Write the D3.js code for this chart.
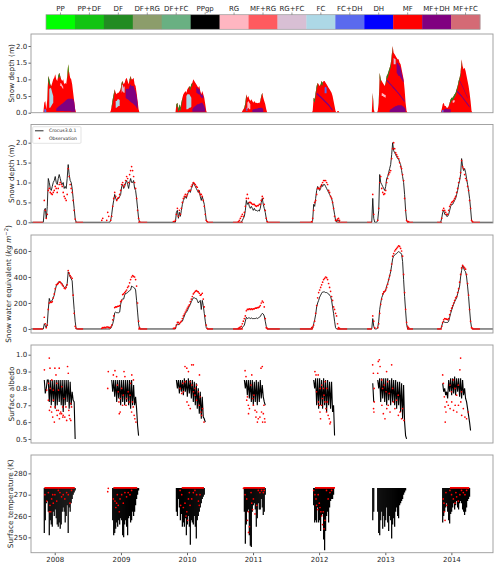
<!DOCTYPE html>
<html>
<head>
<meta charset="utf-8">
<script src="https://cdn.jsdelivr.net/npm/d3@7"></script>
<style>
  body { margin: 0; background: #fff; }
  svg text { font-family: "DejaVu Sans", sans-serif; fill: #262626; }
</style>
</head>
<body>
<div id="chart"></div>
<script>
"use strict";

// grain type classes of the colour bar
const grainTypes = ["PP", "PP+DF", "DF", "DF+RG", "DF+FC", "PPgp", "RG", "MF+RG",
    "RG+FC", "FC", "FC+DH", "DH", "MF", "MF+DH", "MF+FC"];
const grainColors = ["#00ff00", "#12c412", "#228b22", "#8c9d6b", "#69b082", "#000000",
    "#ffb6c1", "#ff5a5f", "#d8bfd4", "#add8e6", "#5a6aee", "#0000ff", "#ff0000", "#800080", "#d46a75"];

// tick labels
const depthTicks = [0, 0.5, 1, 1.5, 2];
const sweTicks = [0, 200, 400, 600];
const albedoTicks = [0.5, 0.6, 0.7, 0.8, 0.9, 1.0];
const tempTicks = [250, 260, 270, 280];
const yearTicks = [2008, 2009, 2010, 2011, 2012, 2013, 2014];

// time span of the record
const recordStart = "2007-08-23", recordEnd = "2014-08-19";

// one row per winter, values every STEP_DAYS days from seasonStart
const seasonStart = ["2007-10-30", "2008-09-17", "2009-10-18", "2010-10-12",
    "2011-11-21", "2012-10-18", "2013-11-03"];
const STEP_DAYS = 5.5;

// snow depth (m)
const depthModel = [
    [0, 0.3, 0.35, 0.1, 0.4, 1.1, 1.0, 0.85, 0.8, 0.9, 1.0, 1.05, 1.15, 1.0, 0.95, 1.1, 1.2, 1.1, 1.0, 0.95, 1.0, 0.85, 0.9, 0.85, 1.1, 1.45, 1.2, 1.05, 1.0, 0.85, 0.6, 0.35, 0.1, 0],
    [0, 0, 0, 0, 0, 0, 0, 0, 0, 0.05, 0.2, 0.4, 0.55, 0.7, 0.6, 0.55, 0.6, 0.6, 0.65, 0.7, 0.9, 0.95, 0.85, 0.9, 1.0, 1.05, 0.95, 0.85, 1.0, 1.1, 1.0, 1.0, 1.05, 0.85, 0.8, 0.6, 0.35, 0.1, 0],
    [0, 0, 0, 0.25, 0.3, 0.1, 0.25, 0.15, 0.3, 0.45, 0.55, 0.6, 0.65, 0.6, 0.7, 0.75, 0.8, 0.75, 0.85, 0.9, 1.0, 0.95, 0.9, 0.85, 0.8, 0.75, 0.8, 0.65, 0.55, 0.65, 0.55, 0.45, 0.25, 0.05, 0],
    [0, 0, 0, 0, 0.05, 0.1, 0.15, 0.3, 0.55, 0.45, 0.5, 0.4, 0.35, 0.4, 0.35, 0.3, 0.35, 0.3, 0.3, 0.28, 0.3, 0.28, 0.35, 0.5, 0.6, 0.45, 0.35, 0.25, 0.1, 0],
    [0, 0.05, 0.45, 0.4, 0.6, 0.8, 0.9, 0.85, 0.8, 0.85, 0.95, 0.9, 0.95, 0.95, 0.9, 0.85, 0.8, 0.75, 0.7, 0.65, 0.6, 0.5, 0.35, 0.2, 0.05, 0, 0.05, 0.05, 0],
    [0, 0.6, 0.1, 0, 0, 0, 0.05, 0.3, 1.2, 1.0, 0.95, 0.9, 0.85, 0.8, 0.9, 1.1, 1.15, 1.25, 1.35, 1.45, 1.7, 2.0, 1.8, 1.75, 1.7, 1.65, 1.6, 1.6, 1.5, 1.45, 1.3, 1.15, 1.0, 0.7, 0.3, 0.05, 0, 0],
    [0, 0.1, 0.25, 0.3, 0.2, 0.2, 0.15, 0.15, 0.2, 0.3, 0.4, 0.45, 0.45, 0.5, 0.55, 0.6, 0.7, 0.8, 0.95, 1.05, 1.2, 1.6, 1.4, 1.3, 1.35, 1.25, 1.1, 0.95, 0.8, 0.6, 0.35, 0.05, 0]
];
const depthObs = [
    [null, 0.55, 0.3, 0.1, 0.2, 0.8, 0.85, 0.75, 0.72, 0.7, 0.75, 0.8, 0.9, 0.85, 0.75, 0.85, 0.95, 1.0, 0.95, 0.9, 0.75, 0.65, 0.6, 0.55, 0.7, 1.35, 1.15, 0.95, 0.85, 0.75, 0.55, 0.3, 0.08, 0],
    [0.05, 0.1, null, null, null, 0.05, 0.25, 0.15, null, 0.05, 0.15, 0.4, 0.6, 0.75, 0.65, 0.55, 0.6, 0.62, 0.7, 0.8, 0.95, 1.0, 0.9, 0.95, 1.05, 1.15, 1.1, 1.0, 1.2, 1.3, 1.4, 1.3, 1.15, 1.0, 0.85, 0.6, 0.3, 0.1, 0.02],
    [0.02, 0.02, 0.05, 0.2, 0.35, 0.15, 0.3, 0.2, 0.35, 0.5, 0.6, 0.65, 0.7, 0.65, 0.7, 0.78, 0.8, 0.8, 0.9, 0.95, 1.0, 0.98, 0.95, 0.9, 0.88, 0.8, 0.75, 0.7, 0.7, 0.65, 0.55, 0.4, 0.2, 0.05, 0.02],
    [0.02, 0.05, 0.1, 0.15, 0.2, 0.15, 0.25, 0.4, 0.6, 0.7, 0.6, 0.5, 0.5, 0.48, 0.45, 0.45, 0.45, 0.42, 0.4, 0.42, 0.42, 0.45, 0.45, 0.55, 0.65, 0.6, 0.45, 0.3, 0.1, 0.02],
    [0.02, 0.1, 0.3, 0.5, 0.55, 0.7, 0.85, 0.85, 0.85, 0.9, 0.95, 1.0, 1.05, 1.05, 1.05, 1.0, 0.95, 0.8, 0.75, 0.65, 0.6, 0.5, 0.35, 0.15, 0.05, 0.05, 0.08, 0.1, 0.05],
    [null, 0.7, 0.2, null, null, null, 0.05, 0.35, 1.0, 1.15, 0.85, 0.75, 0.7, 0.72, 0.8, 1.0, 1.1, 1.2, 1.25, 1.3, 1.6, 1.85, 2.0, 1.85, 1.75, 1.7, 1.65, 1.6, 1.5, 1.4, 1.35, 1.2, 1.05, 0.6, 0.3, 0.05, 0.02, 0.02],
    [null, 0.1, 0.3, 0.35, 0.3, 0.25, 0.2, 0.2, 0.3, 0.4, 0.45, 0.5, 0.52, 0.55, 0.6, 0.65, 0.75, 0.85, 1.0, 1.1, 1.25, 1.55, 1.4, 1.35, 1.2, 1.1, 1.05, 0.9, 0.8, 0.55, 0.35, 0.05, 0.02]
];

// snow water equivalent (kg m-2)
const sweModel = [
    [0, 40, 25, 10, 40, 150, 235, 210, 215, 220, 240, 260, 300, 330, 340, 360, 365, 360, 355, 350, 330, 320, 320, 330, 350, 440, 420, 400, 385, 370, 250, 150, 60, 0],
    [0, 0, 0, 0, 0, 0, 0, 0, 0, 5, 20, 40, 70, 125, 130, 125, 125, 125, 130, 190, 225, 230, 230, 260, 275, 275, 280, 290, 295, 300, 330, 325, 320, 315, 300, 220, 130, 40, 0],
    [0, 0, 0, 30, 40, 30, 40, 50, 55, 60, 80, 100, 120, 130, 140, 160, 175, 190, 210, 225, 240, 240, 235, 235, 220, 200, 210, 220, 150, 220, 180, 120, 60, 10, 0],
    [0, 0, 0, 0, 10, 20, 30, 60, 90, 80, 85, 85, 80, 85, 80, 80, 80, 80, 85, 80, 85, 90, 95, 110, 120, 115, 100, 60, 20, 0],
    [0, 5, 40, 70, 110, 170, 200, 220, 245, 260, 275, 285, 285, 285, 280, 280, 275, 270, 260, 250, 220, 170, 120, 60, 10, 0, 0, 0, 0],
    [0, 80, 20, 0, 0, 0, 10, 60, 150, 200, 240, 260, 280, 285, 300, 330, 350, 380, 410, 440, 490, 540, 560, 570, 575, 580, 590, 595, 590, 585, 575, 520, 380, 250, 140, 40, 0, 0],
    [0, 20, 50, 60, 50, 50, 50, 50, 60, 90, 120, 145, 170, 190, 210, 225, 240, 270, 300, 330, 400, 450, 490, 470, 450, 440, 400, 330, 250, 150, 60, 10, 0]
];
const sweObs = [
    [null, 90, 40, 10, 30, 150, 200, 205, 205, 210, 240, 270, 310, 340, 345, 350, 360, 360, 350, 340, 330, 315, 310, 320, 340, 450, 430, 410, 400, 390, 260, 120, 20, 5],
    [5, 10, 10, 12, 10, 15, 15, 12, 10, 15, 30, 70, 100, 165, 170, 170, 175, 175, 180, 210, 220, 265, 270, 280, 290, 300, 320, 330, 355, 380, 400, 410, 405, 400, 380, 330, 200, 60, 10],
    [5, 5, 10, 30, 50, 50, 40, 50, 60, 80, 100, 115, 130, 145, 160, 175, 185, 210, 230, 250, 270, 280, 290, 295, 290, 285, 275, 260, 265, 275, 230, 170, 100, 30, 5],
    [5, 10, 15, 20, 40, 60, 80, 100, 140, 150, 150, 155, 150, 155, 150, 155, 155, 160, 160, 165, 165, 170, 180, 200, 215, 205, 170, 80, 10, 5],
    [10, 15, 30, 60, 120, 180, 240, 280, 300, 320, 340, 360, 380, 390, 400, 395, 380, 350, 320, 290, 250, 220, 170, 150, 120, 100, 40, 10, 5],
    [null, 100, 60, 10, null, null, 10, 40, 120, 190, 230, 270, 285, 290, 300, 320, 345, 380, 410, 450, 500, 560, 580, 600, 610, 620, 630, 640, 635, 620, 600, 560, 420, 280, 150, 50, 20, 10],
    [null, 20, 50, 70, 80, 78, 75, 72, 80, 110, 140, 160, 180, 200, 220, 240, 250, 280, 310, 360, 420, 470, 490, 480, 470, 460, 420, 350, 260, 150, 60, 10, 5]
];

// observed snow-free periods (depth and SWE at zero)
const obsZeroPeriods = [
    ["2007-09-03", "2007-10-28"], ["2008-05-04", "2008-06-06"], ["2009-04-06", "2009-05-26"],
    ["2010-04-21", "2010-05-25"], ["2010-09-12", "2010-11-06"], ["2011-03-18", "2011-05-29"],
    ["2011-09-17", "2011-11-28"], ["2012-04-10", "2012-06-04"], ["2012-09-22", "2012-10-19"],
    ["2013-05-01", "2013-06-03"], ["2013-10-14", "2013-11-10"], ["2014-04-24", "2014-06-08"]
];

// simulated surface albedo, first grid index of each winter
const albedoStart = [1, 10, 3, 6, 2, 1, 2];
const albedoModel = [
    [0.85, 0.77, 0.8, 0.85, 0.85, 0.72, 0.85, 0.7, 0.85, 0.72, 0.85, 0.68, 0.85, 0.7, 0.85, 0.72, 0.85, 0.7, 0.85, 0.66, 0.85, 0.7, 0.85, 0.72, 0.85, 0.68, 0.84, 0.7, 0.78, 0.73, 0.72, 0.5],
    [0.85, 0.78, 0.85, 0.75, 0.85, 0.72, 0.85, 0.74, 0.85, 0.7, 0.85, 0.72, 0.85, 0.7, 0.85, 0.72, 0.85, 0.7, 0.85, 0.68, 0.85, 0.7, 0.82, 0.7, 0.75, 0.68, 0.58, 0.52],
    [0.85, 0.8, 0.85, 0.77, 0.85, 0.78, 0.85, 0.76, 0.86, 0.78, 0.85, 0.75, 0.86, 0.77, 0.85, 0.74, 0.85, 0.72, 0.84, 0.7, 0.83, 0.68, 0.8, 0.65, 0.78, 0.62, 0.75, 0.63, 0.62, 0.6],
    [0.85, 0.8, 0.85, 0.76, 0.85, 0.74, 0.85, 0.72, 0.85, 0.7, 0.84, 0.72, 0.85, 0.7, 0.84, 0.72, 0.85, 0.74, 0.82, 0.75, 0.72, 0.7],
    [0.85, 0.8, 0.86, 0.7, 0.86, 0.68, 0.86, 0.7, 0.85, 0.68, 0.86, 0.7, 0.85, 0.66, 0.85, 0.7, 0.84, 0.68, 0.84, 0.66, 0.7, 0.52],
    [0.83, 0.72, null, null, null, 0.85, 0.8, 0.86, 0.72, 0.86, 0.74, 0.86, 0.72, 0.86, 0.7, 0.86, 0.73, 0.85, 0.7, 0.86, 0.72, 0.85, 0.7, 0.85, 0.68, 0.84, 0.7, 0.84, 0.66, 0.83, 0.62, 0.82, 0.6, 0.52, 0.5],
    [0.83, 0.78, 0.8, 0.76, 0.78, 0.74, 0.85, 0.78, 0.86, 0.76, 0.86, 0.77, 0.87, 0.76, 0.86, 0.78, 0.86, 0.75, 0.86, 0.74, 0.85, 0.76, 0.8, 0.74, 0.72, 0.68, 0.64, 0.6, 0.55]
];
// observed albedo: [day of winter, value]
const albedoObs = [
    [[6, 0.91], [19, 0.79], [28, 0.73], [29, 0.83], [33, 0.98], [34, 0.67], [37, 0.92], [38, 0.8], [41, 0.69], [46, 0.66], [47, 0.85], [52, 0.63], [55, 0.79], [56, 0.73], [61, 0.6], [64, 0.92], [65, 0.69], [70, 0.88], [74, 0.67], [75, 0.83], [77, 0.64], [83, 0.67], [84, 0.79], [88, 0.92], [89, 0.62], [92, 0.65], [96, 0.66], [101, 0.65], [102, 0.81], [107, 0.69], [108, 0.63], [110, 0.64], [116, 0.74], [119, 0.63], [125, 0.69], [129, 0.61], [134, 0.93], [138, 0.89], [141, 0.67], [143, 0.64], [147, 0.62], [151, 0.71], [152, 0.61], [156, 0.69]],
    [[33, 0.8], [36, 0.9], [64, 0.88], [73, 0.905], [82, 0.87], [86, 0.82], [91, 0.78], [95, 0.72], [97, 0.65], [101, 0.74], [102, 0.66], [110, 0.8], [115, 0.7], [119, 0.76], [123, 0.9], [128, 0.87], [134, 0.7], [137, 0.74], [146, 0.78], [152, 0.72], [156, 0.76], [159, 0.83], [165, 0.66], [166, 0.88], [170, 0.72], [174, 0.69], [175, 0.85], [179, 0.64], [183, 0.62], [189, 0.6]],
    [[37, 0.8], [46, 0.77], [52, 0.83], [55, 0.78], [64, 0.93], [65, 0.84], [74, 0.92], [75, 0.72], [83, 0.9], [84, 0.7], [92, 0.84], [93, 0.68], [101, 0.94], [102, 0.82], [110, 0.94], [111, 0.78], [119, 0.76], [120, 0.8], [128, 0.73], [129, 0.82], [138, 0.78], [143, 0.7], [144, 0.88], [147, 0.75], [152, 0.66], [156, 0.64], [161, 0.68], [169, 0.6]],
    [[37, 0.905], [42, 0.87], [46, 0.73], [50, 0.75], [55, 0.7], [56, 0.65], [61, 0.68], [70, 0.82], [74, 0.88], [79, 0.74], [83, 0.7], [86, 0.76], [92, 0.67], [97, 0.63], [101, 0.66], [105, 0.6], [110, 0.62], [119, 0.63], [125, 0.92], [128, 0.66], [132, 0.93], [134, 0.6], [138, 0.65], [141, 0.7], [145, 0.62], [147, 0.6]],
    [[18, 0.9], [24, 0.88], [27, 0.78], [36, 0.88], [37, 0.72], [42, 0.7], [46, 0.66], [47, 0.8], [49, 0.62], [55, 0.7], [56, 0.82], [60, 0.74], [64, 0.8], [68, 0.76], [73, 0.72], [74, 0.84], [79, 0.68], [82, 0.66], [83, 0.8], [86, 0.72], [91, 0.64], [97, 0.62], [101, 0.59], [104, 0.6]],
    [[5, 0.94], [9, 0.89], [10, 0.68], [12, 0.66], [13, 0.8], [14, 0.72], [33, 0.89], [36, 0.96], [42, 0.97], [46, 0.93], [55, 0.85], [56, 0.7], [60, 0.8], [64, 0.65], [69, 0.82], [73, 0.62], [79, 0.78], [82, 0.9], [83, 0.68], [88, 0.84], [91, 0.7], [97, 0.77], [101, 0.66], [110, 0.94], [115, 0.8], [119, 0.72], [128, 0.68], [137, 0.73], [146, 0.76], [147, 0.64], [156, 0.66], [165, 0.62], [170, 0.68], [178, 0.61]],
    [[11, 0.88], [15, 0.83], [20, 0.75], [24, 0.69], [25, 0.6], [29, 0.66], [33, 0.72], [42, 0.7], [51, 0.82], [52, 0.68], [60, 0.78], [61, 0.72], [70, 0.85], [71, 0.67], [79, 0.8], [80, 0.7], [88, 0.76], [89, 0.66], [97, 0.82], [98, 0.7], [106, 0.91], [110, 0.98], [111, 0.72], [115, 0.78], [116, 0.64], [125, 0.68], [134, 0.63], [143, 0.62], [152, 0.66]]
];

// simulated surface temperature: lowest value in each step (K), top is melting point
const T_MELT = 273.15;
const tempStart = [1, 11, 3, 6, 2, 1, 2];
const tempMin = [
    [252, 258, 266, 267, 262, 251, 258, 256, 255, 262, 260, 263, 259, 256, 255, 257, 254, 256, 262, 264, 262, 257, 260, 265, 252, 264, 262, 266, 268, 270, 271, 272],
    [258, 251, 252, 254, 257, 255, 258, 256, 259, 258, 251, 250, 256, 258, 255, 251, 259, 260, 257, 258, 262, 260, 262, 265, 268, 270, 272],
    [262, 260, 268, 264, 258, 261, 255, 257, 255, 259, 251, 256, 260, 255, 246.5, 258, 257, 256, 260, 255, 249.5, 258, 260, 262, 264, 266, 268, 269, 270],
    [262, 247, 256, 262, 263, 251, 246, 245.5, 262, 265, 266, 263, 255, 259, 266, 263, 263, 268, 264, 260.5, 262, 270],
    [265, 257, 258, 257, 264, 257, 258, 253, 260, 261, 249, 244, 253, 260, 262, 257, 264, 267, 268, 268, 270],
    [258, 262, null, null, null, 262, 252, 251, 258, 262, 254, 260, 255, 258, 264, 257, 253, 260, 258, 249.5, 256, 259, 255, 262, 264, 260, 259, 265, 266, 267, 268, 270, 271, 272],
    [257, 260, 262, 264, 266, 262, 258, 256.5, 261, 262, 264, 266, 263, 265, 267, 264, 263, 266, 267, 266, 263, 262, 260.5, 262, 264, 267, 268, 269]
];
// observed surface temperature: days at melting point, and [day, value] below it
const tempObsMelt = [[6, 174], [64, 196], [46, 169], [28, 147], [18, 129], null, [51, 158]];
const tempObs = [
    [[9, 270], [19, 267], [28, 271], [33, 262], [37, 265], [41, 262], [46, 268], [52, 270], [55, 266], [64, 270], [74, 267], [83, 272], [92, 271], [101, 269], [110, 270], [119, 268], [129, 271], [138, 270], [147, 266], [156, 272]],
    [[33, 271.4], [36, 273], [64, 268], [73, 267], [78, 264], [82, 266], [86, 270], [91, 265], [97, 262], [101, 268], [110, 270], [119, 266], [128, 271], [137, 269], [146, 271], [156, 270], [165, 272]],
    [[37, 272], [40, 265], [46, 270], [55, 264], [64, 266], [70, 260], [74, 262], [79, 258], [83, 268], [88, 271], [92, 265], [101, 268], [110, 271], [119, 272], [128, 270], [138, 267], [143, 265], [147, 270]],
    [[28, 273], [37, 270], [46, 268], [50, 258], [55, 262], [56, 252.3], [61, 255], [70, 271], [74, 266], [79, 263], [83, 268], [92, 261], [101, 265], [110, 272], [119, 271], [128, 272], [138, 271], [143, 272]],
    [[11, 272], [18, 270], [24, 268], [27, 265], [33, 263], [36, 270], [42, 266], [46, 264], [51, 262], [55, 260], [60, 256], [64, 262], [68, 254], [73, 258], [82, 272], [91, 268], [101, 271], [110, 272]],
    [],
    [[14, 268], [18, 266], [20, 262], [24, 258], [29, 271], [33, 265], [51, 272], [60, 270], [70, 268], [79, 266], [84, 271], [88, 269], [97, 267], [106, 270], [115, 272], [125, 271], [134, 270], [143, 272], [152, 273]]
];

// simulated stratigraphy: [winter, grain type, first grid index, layer bottom (m), layer top (m)]
// the rest of the snowpack is MF
const profileBands = [
    [0, "FC+DH", 1, [0, 0, 0], [0.1, 0.12, 0.08]],
    [0, "FC", 6, [0.15, 0.15, 0.2, 0.25, 0.3], [0.7, 0.75, 0.72, 0.6, 0.5]],
    [0, "MF+DH", 13, [0.05, 0.05, 0.05, 0.05, 0.05, 0.05, 0.05, 0.05, 0.04, 0.04, 0.04, 0.04, 0.04, 0.04, 0.04, 0.03, 0.03, 0.03, 0.03, 0.02],
        [0.12, 0.15, 0.18, 0.2, 0.22, 0.25, 0.27, 0.3, 0.32, 0.35, 0.38, 0.4, 0.42, 0.42, 0.42, 0.42, 0.42, 0.4, 0.33, 0.1]],
    [0, "RG", 17, [0.8, 0.8, 0.75, 0.7], [0.88, 0.88, 0.82, 0.78]],
    [0, "DF", 4, [0.3, 0.95, 0.85, 0.75], [0.4, 1.1, 1.0, 0.85]],
    [0, "DF", 15, [1.0, 1.1, 1.0], [1.1, 1.2, 1.1]],
    [0, "PP+DF", 24, [0.95, 1.3, 1.1], [1.1, 1.45, 1.2]],

    [1, "FC", 14, [0.15, 0.15, 0.18, 0.2, 0.2], [0.35, 0.35, 0.4, 0.4, 0.38]],
    [1, "RG+FC", 20, [0.6, 0.65, 0.6, 0.6], [0.8, 0.85, 0.75, 0.8]],
    [1, "MF+DH", 24, [0.45, 0.42, 0.4, 0.38, 0.35, 0.32, 0.3, 0.28, 0.25, 0.22, 0.2, 0.15, 0.1],
        [0.7, 0.72, 0.72, 0.7, 0.8, 0.85, 0.8, 0.8, 0.8, 0.7, 0.65, 0.5, 0.3]],
    [1, "DF", 10, [0.12, 0.3, 0.45, 0.62], [0.2, 0.4, 0.55, 0.7]],
    [1, "DF", 19, [0.62, 0.82, 0.88], [0.7, 0.9, 0.95]],
    [1, "DF", 28, [0.9, 1.0], [1.0, 1.1]],

    [2, "FC", 13, [0.1, 0.1, 0.12, 0.15, 0.15, 0.18], [0.5, 0.55, 0.55, 0.55, 0.5, 0.45]],
    [2, "MF+DH", 19, [0.03, 0.03, 0.03, 0.03, 0.03, 0.03, 0.03, 0.03, 0.03, 0.03, 0.03, 0.03, 0.03, 0.03],
        [0.1, 0.15, 0.18, 0.2, 0.22, 0.25, 0.25, 0.27, 0.28, 0.3, 0.3, 0.25, 0.2, 0.1]],
    [2, "MF+DH", 23, [0.6, 0.58, 0.55, 0.55, 0.5, 0.45, 0.45, 0.42], [0.78, 0.74, 0.7, 0.72, 0.6, 0.52, 0.55, 0.5]],
    [2, "DF", 3, [0.15, 0.2, 0.02, 0.1, 0.05, 0.2, 0.35], [0.25, 0.3, 0.1, 0.25, 0.15, 0.3, 0.45]],
    [2, "DF", 16, [0.7, 0.68, 0.78, 0.82], [0.8, 0.75, 0.85, 0.9]],
    [2, "PP", 20, [0.92], [1.0]],

    [3, "FC+DH", 8, [0.05, 0.05], [0.15, 0.15]],
    [3, "RG", 9, [0.1, 0.15, 0.1, 0.1], [0.3, 0.35, 0.3, 0.25]],
    [3, "MF+DH", 14, [0.02, 0.02, 0.02, 0.02, 0.02, 0.02, 0.02, 0.02, 0.02, 0.02, 0.02, 0.02],
        [0.08, 0.1, 0.1, 0.12, 0.12, 0.12, 0.14, 0.14, 0.15, 0.15, 0.14, 0.1]],
    [3, "DF", 6, [0.08, 0.2, 0.42], [0.15, 0.3, 0.55]],
    [3, "DF", 22, [0.3, 0.45, 0.55], [0.35, 0.5, 0.6]],

    [4, "MF+DH", 5, [0.54, 0.52, 0.49, 0.46, 0.44, 0.41, 0.38, 0.35, 0.32, 0.29, 0.26, 0.23, 0.2, 0.16, 0.12, 0.08, 0.05],
        [0.6, 0.58, 0.55, 0.52, 0.5, 0.47, 0.44, 0.41, 0.38, 0.35, 0.32, 0.29, 0.26, 0.22, 0.18, 0.14, 0.1]],
    [4, "FC+DH", 13, [0.58, 0.58, 0.58], [0.75, 0.78, 0.75]],
    [4, "DF", 2, [0.35, 0.3, 0.5, 0.7, 0.8], [0.45, 0.4, 0.6, 0.8, 0.9]],
    [4, "DF", 9, [0.75, 0.85, 0.8], [0.85, 0.95, 0.9]],

    [5, "RG", 10, [0.5, 0.5, 0.48, 0.46, 0.45], [0.58, 0.58, 0.56, 0.54, 0.53]],
    [5, "MF+DH", 18, [0.02, 0.02, 0.02, 0.02, 0.02, 0.02, 0.02, 0.02, 0.02, 0.02, 0.02, 0.02, 0.02, 0.02, 0.02, 0.02, 0.02],
        [0.08, 0.1, 0.12, 0.14, 0.16, 0.18, 0.2, 0.2, 0.22, 0.22, 0.22, 0.22, 0.22, 0.2, 0.18, 0.15, 0.1]],
    [5, "MF+DH", 15, [0.95, 0.92, 0.89, 0.85, 0.82, 0.79, 0.75, 0.72, 0.69, 0.65, 0.62, 0.58, 0.55, 0.51, 0.47, 0.43, 0.39, 0.35, 0.31],
        [1.0, 0.97, 0.94, 0.9, 0.87, 0.84, 0.8, 0.77, 0.74, 0.7, 0.67, 0.63, 0.6, 0.56, 0.52, 0.48, 0.44, 0.4, 0.36]],
    [5, "MF+DH", 25, [1.2, 1.15, 1.1, 1.1, 1.05, 1.0, 0.95, 0.9], [1.5, 1.5, 1.45, 1.4, 1.35, 1.2, 1.08, 0.95]],
    [5, "RG+FC", 22, [1.45, 1.45, 1.45], [1.65, 1.62, 1.6]],
    [5, "DF", 1, [0.45, 0.05], [0.6, 0.1]],
    [5, "DF", 7, [0.15, 1.05, 0.85], [0.3, 1.2, 1.0]],
    [5, "DF", 14, [0.8, 1.0, 1.05, 1.15, 1.25, 1.35, 1.6, 1.9], [0.9, 1.1, 1.15, 1.25, 1.35, 1.45, 1.7, 2.0]],
    [5, "PP", 21, [1.93], [2.0]],

    [6, "FC+DH", 1, [0, 0, 0], [0.06, 0.08, 0.08]],
    [6, "MF+DH", 3, [0, 0, 0, 0, 0, 0, 0, 0], [0.08, 0.1, 0.12, 0.12, 0.1, 0.1, 0.1, 0.1]],
    [6, "RG", 12, [0.3, 0.3, 0.32], [0.36, 0.37, 0.38]],
    [6, "MF+DH", 16, [0.63, 0.6, 0.57, 0.53, 0.5, 0.47, 0.43, 0.39, 0.35, 0.31, 0.27, 0.23, 0.19, 0.15],
        [0.68, 0.65, 0.62, 0.58, 0.55, 0.52, 0.48, 0.44, 0.4, 0.36, 0.32, 0.28, 0.24, 0.2]],
    [6, "MF+DH", 19, [0.94, 0.88, 0.82, 0.76, 0.7, 0.63, 0.56, 0.49, 0.42], [0.98, 0.92, 0.86, 0.8, 0.74, 0.67, 0.6, 0.53, 0.46]],
    [6, "DF", 9, [0.22, 0.32, 0.37, 0.37, 0.42, 0.47, 0.52, 0.62, 0.72, 0.87, 0.97, 1.1, 1.45],
        [0.3, 0.4, 0.45, 0.45, 0.5, 0.55, 0.6, 0.7, 0.8, 0.95, 1.05, 1.2, 1.6]],
    [6, "PP", 21, [1.52], [1.6]]
];

// ---------------------------------------------------------------------------

const WIDTH = 500, HEIGHT = 567;
const X0 = 31, X1 = 493;
const RED = "#ff0000";

const parseDay = d3.timeParse("%Y-%m-%d");
const DAY_MS = 864e5;
const starts = seasonStart.map(parseDay);
const gridDate = (s, i) => new Date(starts[s].getTime() + i * STEP_DAYS * DAY_MS);
const dayDate = (s, d) => new Date(starts[s].getTime() + d * DAY_MS);
const grainColor = t => grainColors[grainTypes.indexOf(t)];

const svg = d3.select("#chart").append("svg")
    .attr("width", WIDTH)
    .attr("height", HEIGHT);

const x = d3.scaleTime()
    .domain([parseDay(recordStart), parseDay(recordEnd)])
    .range([X0, X1]);

// panel layout
const panels = [
    { top: 34, bottom: 112.7, domain: [0, 2.36], ticks: depthTicks, fmt: ".1f", labelX: 11.7 },
    { top: 124.5, bottom: 223, domain: [-0.018, 2.457], ticks: depthTicks, fmt: ".1f", labelX: 11.7 },
    { top: 235, bottom: 333, domain: [-31, 723], ticks: sweTicks, fmt: "d", labelX: 8.5 },
    { top: 345, bottom: 443, domain: [0.476, 1.0575], ticks: albedoTicks, fmt: ".1f", labelX: 11.7 },
    { top: 455, bottom: 552.7, domain: [242.8, 288.6], ticks: tempTicks, fmt: "d", labelX: 10 }
];

const defs = svg.append("defs");

function styleAxis(ax) {
    ax.attr("font-size", 7).attr("font-family", "DejaVu Sans");
    ax.select(".domain").remove();
    ax.selectAll(".tick line").attr("stroke", "#333").attr("stroke-width", 0.8);
    ax.selectAll(".tick text").attr("fill", "#262626");
}

panels.forEach((p, k) => {
    p.y = d3.scaleLinear().domain(p.domain).range([p.bottom, p.top]);
    defs.append("clipPath").attr("id", "clip" + k)
        .append("rect")
        .attr("x", X0).attr("y", p.top)
        .attr("width", X1 - X0).attr("height", p.bottom - p.top);
    p.plot = svg.append("g").attr("clip-path", `url(#clip${k})`);

    const ax = svg.append("g")
        .attr("transform", `translate(${X0},0)`)
        .call(d3.axisLeft(p.y).tickValues(p.ticks).tickFormat(d3.format(p.fmt)).tickSize(2.5).tickPadding(1.3));
    styleAxis(ax);
});

// ---- panel 1: stratigraphy ----
{
    const p = panels[0];
    const area = d3.area()
        .x(d => x(d[0]))
        .y0(d => p.y(d[1]))
        .y1(d => p.y(d[2]));

    depthModel.forEach((vals, s) => {
        p.plot.append("path")
            .attr("d", area(vals.map((v, i) => [gridDate(s, i), 0, v])))
            .attr("fill", grainColor("MF"));
    });

    for (const [s, type, i0, lo, hi] of profileBands) {
        const pts = lo.map((l, j) => {
            const top = Math.min(hi[j], depthModel[s][i0 + j]);
            return [gridDate(s, i0 + j), Math.min(l, top), top];
        });
        p.plot.append("path")
            .attr("d", area(pts))
            .attr("fill", grainColor(type));
    }
}

// ---- panels 2 and 3: depth and SWE ----
function drawModelObs(p, model, obs) {
    const pts = [[x.domain()[0], 0]];
    model.forEach((vals, s) => vals.forEach((v, i) => pts.push([gridDate(s, i), v])));
    pts.push([x.domain()[1], 0]);

    p.plot.append("path")
        .attr("d", d3.line().x(d => x(d[0])).y(d => p.y(d[1]))(pts))
        .attr("fill", "none")
        .attr("stroke", "#111")
        .attr("stroke-width", 0.9);

    // snow-free observation periods
    p.plot.selectAll(null)
        .data(obsZeroPeriods)
        .enter()
        .append("line")
        .attr("x1", d => x(parseDay(d[0])))
        .attr("x2", d => x(parseDay(d[1])))
        .attr("y1", p.y(0))
        .attr("y2", p.y(0))
        .attr("stroke", RED)
        .attr("stroke-width", 1.3);

    const dots = [];
    obs.forEach((vals, s) => vals.forEach((v, i) => {
        if (v != null) dots.push([gridDate(s, i), v]);
    }));
    p.plot.selectAll(null)
        .data(dots)
        .enter()
        .append("circle")
        .attr("cx", d => x(d[0]))
        .attr("cy", d => p.y(d[1]))
        .attr("r", 0.85)
        .attr("fill", RED);
}
drawModelObs(panels[1], depthModel, depthObs);
drawModelObs(panels[2], sweModel, sweObs);

// ---- panel 4: albedo ----
{
    const p = panels[3];
    const line = d3.line()
        .defined(d => d[1] != null)
        .x(d => x(d[0]))
        .y(d => p.y(d[1]));
    albedoModel.forEach((vals, s) => {
        p.plot.append("path")
            .attr("d", line(vals.map((v, j) => [gridDate(s, albedoStart[s] + j), v])))
            .attr("fill", "none")
            .attr("stroke", "#000")
            .attr("stroke-width", 1.1);
    });
    albedoObs.forEach((pairs, s) => {
        p.plot.selectAll(null)
            .data(pairs)
            .enter()
            .append("circle")
            .attr("cx", d => x(dayDate(s, d[0])))
            .attr("cy", d => p.y(d[1]))
            .attr("r", 0.85)
            .attr("fill", RED);
    });
}

// ---- panel 5: surface temperature ----
{
    const p = panels[4];
    tempMin.forEach((vals, s) => {
        const segs = vals.map((v, j) => [gridDate(s, tempStart[s] + j), v]).filter(d => d[1] != null);
        p.plot.selectAll(null)
            .data(segs)
            .enter()
            .append("line")
            .attr("x1", d => x(d[0]))
            .attr("x2", d => x(d[0]))
            .attr("y1", p.y(T_MELT))
            .attr("y2", d => p.y(d[1]))
            .attr("stroke", "#000")
            .attr("stroke-width", 1.25);
    });
    tempObsMelt.forEach((r, s) => {
        if (!r) return;
        p.plot.append("line")
            .attr("x1", x(dayDate(s, r[0])))
            .attr("x2", x(dayDate(s, r[1])))
            .attr("y1", p.y(T_MELT))
            .attr("y2", p.y(T_MELT))
            .attr("stroke", RED)
            .attr("stroke-width", 1.8);
    });
    tempObs.forEach((pairs, s) => {
        p.plot.selectAll(null)
            .data(pairs)
            .enter()
            .append("circle")
            .attr("cx", d => x(dayDate(s, d[0])))
            .attr("cy", d => p.y(d[1]))
            .attr("r", 0.85)
            .attr("fill", RED);
    });

    const ax = svg.append("g")
        .attr("transform", `translate(0,${p.bottom})`)
        .call(d3.axisBottom(x)
            .tickValues(yearTicks.map(yr => new Date(yr, 0, 1)))
            .tickFormat(d3.timeFormat("%Y"))
            .tickSize(2.5)
            .tickPadding(2));
    styleAxis(ax);
}

// frames
panels.forEach(p => {
    svg.append("rect")
        .attr("x", X0).attr("y", p.top)
        .attr("width", X1 - X0).attr("height", p.bottom - p.top)
        .attr("fill", "none")
        .attr("stroke", "#9a9a9a")
        .attr("stroke-width", 0.9);
});

// y labels
const yLabels = ["Snow depth (m)", "Snow depth (m)", null, "Surface albedo", "Surface temperature (K)"];
panels.forEach((p, k) => {
    const t = svg.append("text")
        .attr("transform", `translate(${p.labelX},${(p.top + p.bottom) / 2}) rotate(-90)`)
        .attr("text-anchor", "middle")
        .attr("dy", "0.35em")
        .attr("font-size", 7.3);
    if (yLabels[k]) {
        t.text(yLabels[k]);
    } else {
        t.append("tspan").text("Snow water equivalent (");
        t.append("tspan").attr("font-style", "italic").text("kg m");
        t.append("tspan").attr("font-size", 5.2).attr("dy", -3).text("\u22122");
        t.append("tspan").attr("dy", 3).text(")");
    }
});

// legend (panel 2)
{
    const lg = svg.append("g");
    lg.append("rect")
        .attr("x", 32.7).attr("y", 126.7)
        .attr("width", 48.3).attr("height", 16.6)
        .attr("rx", 1)
        .attr("fill", "#fff")
        .attr("stroke", "#d0d0d0")
        .attr("stroke-width", 0.6);
    lg.append("line")
        .attr("x1", 35).attr("x2", 43.5)
        .attr("y1", 130.8).attr("y2", 130.8)
        .attr("stroke", "#111").attr("stroke-width", 0.9);
    lg.append("circle")
        .attr("cx", 39.5).attr("cy", 138.3).attr("r", 0.85).attr("fill", RED);
    lg.append("text").attr("x", 49).attr("y", 130.8).attr("dy", "0.35em")
        .attr("font-size", 4.6).text("Crocus3.0.1");
    lg.append("text").attr("x", 49).attr("y", 138.3).attr("dy", "0.35em")
        .attr("font-size", 4.6).text("Observation");
}

// colour bar of grain types
{
    const cb = d3.scaleBand().domain(grainTypes).range([46, 480]);
    const g = svg.append("g");
    g.selectAll("rect")
        .data(grainTypes)
        .enter()
        .append("rect")
        .attr("x", d => cb(d))
        .attr("y", 14.7)
        .attr("width", cb.bandwidth() + 0.3)
        .attr("height", 14.6)
        .attr("fill", grainColor);
    g.append("rect")
        .attr("x", 46).attr("y", 14.7).attr("width", 434).attr("height", 14.6)
        .attr("fill", "none").attr("stroke", "#9a9a9a").attr("stroke-width", 0.7);
    g.selectAll("line")
        .data(grainTypes)
        .enter()
        .append("line")
        .attr("x1", d => cb(d) + cb.bandwidth() / 2)
        .attr("x2", d => cb(d) + cb.bandwidth() / 2)
        .attr("y1", 14.7).attr("y2", 12.5)
        .attr("stroke", "#555").attr("stroke-width", 0.6);
    g.selectAll("text")
        .data(grainTypes)
        .enter()
        .append("text")
        .attr("x", d => cb(d) + cb.bandwidth() / 2)
        .attr("y", 8.2)
        .attr("dy", "0.35em")
        .attr("text-anchor", "middle")
        .attr("font-size", 7)
        .text(d => d);
}
</script>
</body>
</html>
